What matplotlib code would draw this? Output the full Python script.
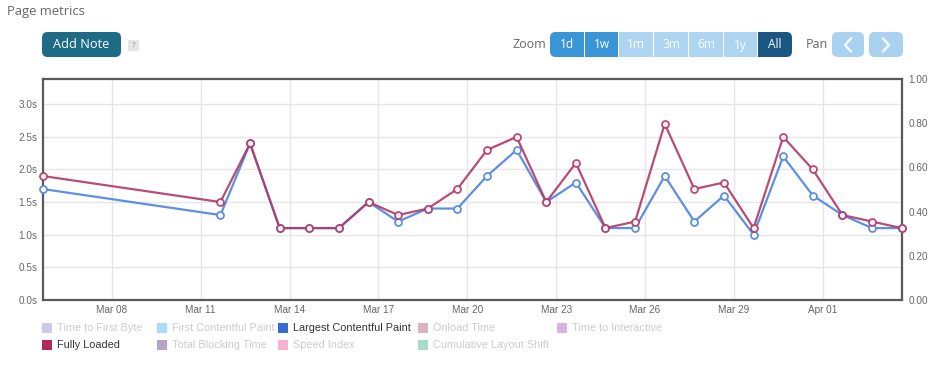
import pandas as pd
import matplotlib.pyplot as plt
import matplotlib.dates as mdates
from matplotlib.patches import FancyBboxPatch, Rectangle
from matplotlib.lines import Line2D

# Data (seconds)
dates = pd.to_datetime(['2023-03-05 16:00'] +
                       [f'2023-03-{d:02d} 16:00' for d in range(11, 32)] +
                       [f'2023-04-{d:02d} 16:00' for d in range(1, 4)])
largest_contentful_paint = [1.7, 1.3, 2.4, 1.1, 1.1, 1.1, 1.5, 1.2, 1.4, 1.4, 1.9, 2.3, 1.5,
                            1.8, 1.1, 1.1, 1.9, 1.2, 1.6, 1.0, 2.2, 1.6, 1.3, 1.1, 1.1]
fully_loaded = [1.9, 1.5, 2.4, 1.1, 1.1, 1.1, 1.5, 1.3, 1.4, 1.7, 2.3, 2.5, 1.5,
                2.1, 1.1, 1.2, 2.7, 1.7, 1.8, 1.1, 2.5, 2.0, 1.3, 1.2, 1.1]

x_ticks = pd.date_range('2023-03-08', '2023-04-01', freq='3D')
left_ticks = [0.0, 0.5, 1.0, 1.5, 2.0, 2.5, 3.0]
right_ticks = [0.0, 0.2, 0.4, 0.6, 0.8, 1.0]

legend_names = ['Time to First Byte', 'First Contentful Paint', 'Largest Contentful Paint',
                'Onload Time', 'Time to Interactive', 'Fully Loaded', 'Total Blocking Time',
                'Speed Index', 'Cumulative Layout Shift']
legend_colors = ['#c8cce6', '#a9dcf6', '#3569d6', '#dfb3bf', '#dcb2e4',
                 '#b3285a', '#b5a6c9', '#f6b3d0', '#a7dcc6']
legend_active = [False, False, True, False, False, True, False, False, False]

W, H = 939, 368
fig = plt.figure(figsize=(W / 100, H / 100), dpi=100)


def fx(px):
    return px / W


def fy(py):
    return 1 - py / H


ui_font = 'Open Sans'
chart_font = 'Liberation Sans'

# header / toolbar
fig.text(fx(7), fy(12), 'Page metrics', fontsize=9.4, color='#666666', family=ui_font,
         va='center', ha='left')


def button(x0, x1, y0, y1, color, label, txt_color='white', rounded=True, size=8.2):
    if rounded:
        p = FancyBboxPatch((fx(x0), fy(y1)), fx(x1) - fx(x0), fy(y0) - fy(y1),
                           boxstyle='round,pad=0,rounding_size=0.006',
                           transform=fig.transFigure, facecolor=color, edgecolor='none',
                           mutation_aspect=W / H)
    else:
        p = Rectangle((fx(x0), fy(y1)), fx(x1) - fx(x0), fy(y0) - fy(y1),
                      transform=fig.transFigure, facecolor=color, edgecolor='none')
    fig.add_artist(p)
    if label:
        fig.text(fx((x0 + x1) / 2), fy((y0 + y1) / 2), label, color=txt_color,
                 fontsize=size, family=ui_font, ha='center', va='center')


button(42, 121, 32, 57, '#1e6b86', 'Add Note', size=9.2)
button(128, 139, 40, 51, '#e6e6e6', '?', txt_color='#888888', rounded=False, size=6)

fig.text(fx(546), fy(45), 'Zoom', fontsize=9, color='#666666', family=ui_font,
         ha='right', va='center')
zoom_buttons = [('1d', 550, 584, '#3a95d6'), ('1w', 585, 618, '#3a95d6'),
                ('1m', 619, 653, '#add4f0'), ('3m', 654, 688, '#add4f0'),
                ('6m', 689, 723, '#add4f0'), ('1y', 724, 757, '#add4f0'),
                ('All', 758, 792, '#1b5783')]
for i, (lab, x0, x1, col) in enumerate(zoom_buttons):
    if i == 0:
        button(x0, x1, 32, 57, col, None)
        button(x0 + 15, x1, 32, 57, col, None, rounded=False)
    elif i == len(zoom_buttons) - 1:
        button(x0, x1, 32, 57, col, None)
        button(x0, x1 - 15, 32, 57, col, None, rounded=False)
    else:
        button(x0, x1, 32, 57, col, None, rounded=False)
    fig.text(fx((x0 + x1) / 2), fy(45), lab, color='white', fontsize=8.6,
             family=ui_font, ha='center', va='center')

fig.text(fx(806), fy(45), 'Pan', fontsize=9, color='#666666', family=ui_font,
         ha='left', va='center')
button(832, 864, 32, 57, '#a9d2f1', None)
button(869, 903, 32, 57, '#a9d2f1', None)
# chevrons on the pan buttons
fig.add_artist(Line2D([fx(851), fx(845), fx(851)], [fy(38.5), fy(45), fy(51.5)],
                      color='white', lw=1.6, transform=fig.transFigure))
fig.add_artist(Line2D([fx(883), fx(889), fx(883)], [fy(38.5), fy(45), fy(51.5)],
                      color='white', lw=1.6, transform=fig.transFigure))

# chart
ax = fig.add_axes([fx(42.7), fy(299.7), fx(901.7) - fx(42.7), fy(79.3) - fy(299.7)])
ax.plot(dates, largest_contentful_paint, color='#5e8fe2', lw=1.6, marker='o', ms=5,
        mfc='white', mec='#5e8fe2', mew=1.3, zorder=3, clip_on=False)
ax.plot(dates, fully_loaded, color='#b03a68', lw=1.6, marker='o', ms=5, alpha=0.9,
        mfc='white', mec='#b03a68', mew=1.3, zorder=4, clip_on=False)

ax.set_xlim(dates[0], dates[-1])
ax.set_ylim(0, 3.385)
ax.set_xticks(x_ticks)
ax.xaxis.set_major_formatter(mdates.DateFormatter('%b %d'))
ax.set_yticks(left_ticks)
ax.set_yticklabels([f'{v:.1f}s' for v in left_ticks])
ax.grid(True, color='#e6e6e6', lw=1)
ax.set_axisbelow(True)
ax.tick_params(length=0, labelsize=7.2, labelcolor='#666666', pad=4)
for lab in ax.get_xticklabels() + ax.get_yticklabels():
    lab.set_family(chart_font)
for s in ax.spines.values():
    s.set_color('#5a5a5a')
    s.set_linewidth(1.6)

ax2 = ax.twinx()
ax2.set_ylim(0, 1.0)
ax2.set_yticks(right_ticks)
ax2.set_yticklabels([f'{v:.2f}' for v in right_ticks])
ax2.tick_params(length=0, labelsize=7.2, labelcolor='#666666', pad=5)
for lab in ax2.get_yticklabels():
    lab.set_family(chart_font)
for s in ax2.spines.values():
    s.set_visible(False)

# legend laid out by hand in two rows like the original
legend_pos = [(42, 328), (157, 328), (278, 328), (418, 328), (557, 328),
              (42, 345), (157, 345), (278, 345), (418, 345)]
for name, col, active, (lx, ly) in zip(legend_names, legend_colors, legend_active, legend_pos):
    fig.add_artist(Rectangle((fx(lx), fy(ly + 5)), fx(10), fy(0) - fy(10),
                             transform=fig.transFigure, facecolor=col, edgecolor='none'))
    fig.text(fx(lx + 15), fy(ly), name, fontsize=7.8, family=chart_font,
             color='#333333' if active else '#cccccc', ha='left', va='center')

fig.savefig('out.png', dpi=100)
